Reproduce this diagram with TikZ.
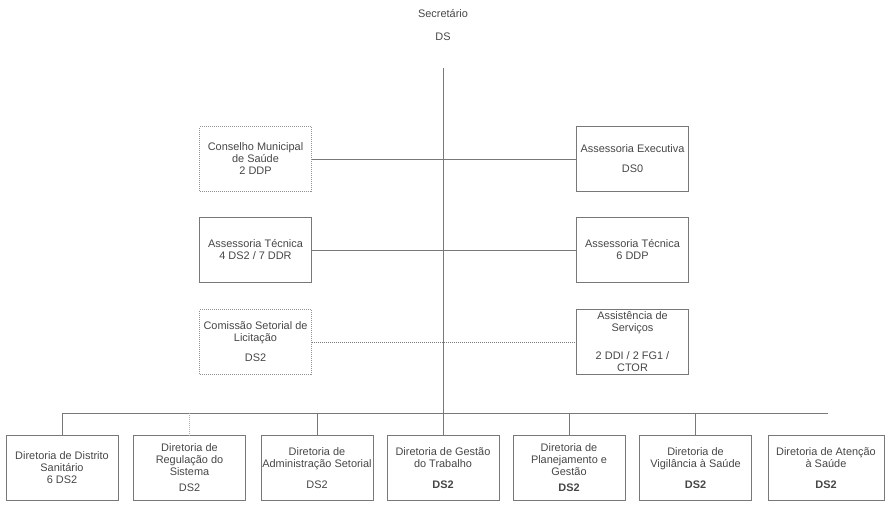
\documentclass[tikz,border=0pt]{standalone}
\usepackage{fontspec}
\setmainfont{Liberation Sans}
\definecolor{linegray}{RGB}{120,120,120}
\definecolor{textgray}{RGB}{70,70,70}
\tikzset{
  orgbox/.style={draw=linegray, line width=0.5pt, align=center, inner sep=0pt,
    minimum width=84pt, minimum height=48.75pt, text=textgray,
    font=\fontsize{8.2}{9}\selectfont},
  orgboxdot/.style={orgbox, densely dotted, draw=linegray!80},
  orgtext/.style={inner sep=0pt, text=textgray, font=\fontsize{8.2}{9}\selectfont},
  wire/.style={draw=linegray, line width=0.5pt}
}
\begin{document}
\begin{tikzpicture}[x=0.75pt,y=0.75pt,yscale=-1,xscale=1]
\useasboundingbox (0,0) rectangle (889,511);

% Text Node
\node [orgtext] (secr) at (443,14) {Secretário};
\node [orgtext] (secrds) at (443,37) {DS};

%Shape: Rectangle [id:conselho]
\node [orgboxdot] (cons) at (255.5,159) {Conselho Municipal\\de Saúde\\2 DDP};
%Shape: Rectangle [id:executiva]
\node [orgbox] (exec) at (632.5,159) {Assessoria Executiva\\[6pt]DS0};
%Shape: Rectangle [id:tecnica1]
\node [orgbox] (tecl) at (255.5,250) {Assessoria Técnica\\4 DS2 / 7 DDR};
%Shape: Rectangle [id:tecnica2]
\node [orgbox] (tecr) at (632.5,250) {Assessoria Técnica\\6 DDP};
%Shape: Rectangle [id:comissao]
\node [orgboxdot] (comis) at (255.5,342) {Comissão Setorial de\\Licitação\\[6pt]DS2};
%Shape: Rectangle [id:servicos]
\node [orgbox] (serv) at (632.5,342) {Assistência de\\Serviços\\[12pt]2 DDI / 2 FG1 /\\CTOR};

%Shape: Rectangle [id:diretorias]
\node [orgbox] (dsan) at (62,468) {Diretoria de Distrito\\Sanitário\\6 DS2};
\node [orgbox] (dreg) at (189.5,468) {Diretoria de\\Regulação do\\Sistema\\[3pt]DS2};
\node [orgbox] (dadm) at (317,468) {Diretoria de\\Administração Setorial\\[7pt]DS2};
\node [orgbox] (dgtr) at (443,468) {Diretoria de Gestão\\do Trabalho\\[7pt]\textbf{DS2}};
\node [orgbox] (dpla) at (569,468) {Diretoria de\\Planejamento e\\Gestão\\[3pt]\textbf{DS2}};
\node [orgbox] (dvig) at (695.5,468) {Diretoria de\\Vigilância à Saúde\\[7pt]\textbf{DS2}};
\node [orgbox, minimum width=87pt] (date) at (826,468) {Diretoria de Atenção\\à Saúde\\[7pt]\textbf{DS2}};

%Straight Lines
\coordinate (trunk) at (443,68);
\coordinate (hub) at (443,413);
\coordinate (busl) at (62,413);
\coordinate (busr) at (828,413);
\draw [wire] (trunk) -- (hub);
\draw [wire] (busl) -- (busr);
\draw [wire] (cons.east) -- (exec.west);
\draw [wire] (tecl.east) -- (tecr.west);
\draw [wire, densely dotted] (comis.east) -- (serv.west);

% drops to the boards
\foreach \b in {dsan,dadm,dgtr,dpla,dvig}
  \draw [wire] (\b.north) -- (\b.north |- hub);
\draw [wire, densely dotted, draw=linegray!60] (dreg.north) -- (dreg.north |- hub);

\end{tikzpicture}
\end{document}
